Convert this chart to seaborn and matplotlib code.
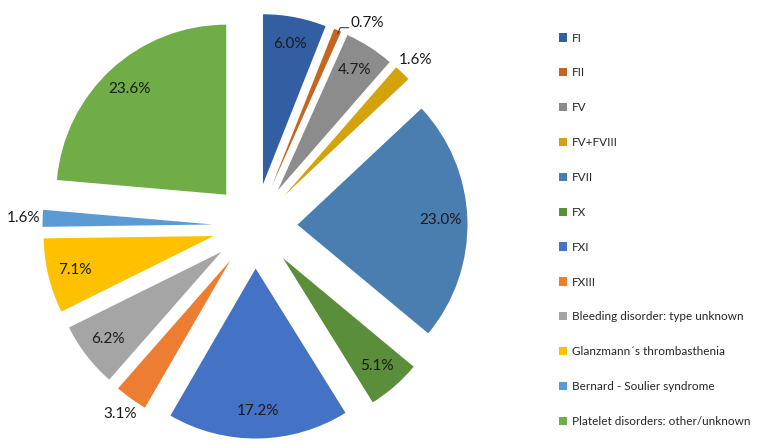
import numpy as np
import matplotlib.pyplot as plt
import seaborn as sns
from matplotlib.patches import Patch

categories = [
    "FI", "FII", "FV", "FV+FVIII", "FVII", "FX", "FXI", "FXIII",
    "Bleeding disorder: type unknown", "Glanzmann´s thrombasthenia",
    "Bernard - Soulier syndrome", "Platelet disorders: other/unknown",
]
shares = [6.0, 0.7, 4.7, 1.6, 23.0, 5.1, 17.2, 3.1, 6.2, 7.1, 1.6, 23.6]
pct_labels = ["6.0%", "0.7%", "4.7%", "1.6%", "23.0%", "5.1%", "17.2%",
              "3.1%", "6.2%", "7.1%", "1.6%", "23.6%"]
outside = [False, True, False, True, False, False, False, True,
           False, False, True, False]
colors = ["#345EA2", "#C5661F", "#8C8C8C", "#D4A20A", "#4A7EB1", "#5A8E3A",
          "#4472C4", "#ED7D31", "#A5A5A5", "#FFC000", "#5B9BD5", "#70AD47"]

sns.set_style("white")
plt.rcParams["font.family"] = ["Lato", "DejaVu Sans"]

fig = plt.figure(figsize=(7.73, 4.47), dpi=100)
# axes covering the left part so that 1 radius unit = 170 px
ax = fig.add_axes([0, 0, 550 / 773, 1])

explode = 0.25
wedges, _ = ax.pie(
    shares, colors=colors, startangle=90, counterclock=False,
    explode=[explode] * len(shares), radius=1.0,
    wedgeprops=dict(linewidth=0),
)
ax.set_xlim(-255 / 170, 295 / 170)
ax.set_ylim(-221 / 170, 226 / 170)
ax.set_aspect("auto")
ax.axis("off")

for w, lab, out in zip(wedges, pct_labels, outside):
    mid = np.deg2rad((w.theta1 + w.theta2) / 2)
    cx, cy = w.center
    if lab == "0.7%":
        # tiny slice: label off to the side with a leader line
        px, py = cx + np.cos(mid), cy + np.sin(mid)
        ax.plot([px, px + 0.015, px + 0.065], [py - 0.02, py + 0.015, py + 0.015],
                color="#404040", lw=0.8)
        ax.text(px + 0.075, py + 0.045, lab, ha="left", va="center",
                fontsize=11, color="#1a1a1a")
        continue
    d = 1.11 if out else 0.84
    tx, ty = cx + d * np.cos(mid), cy + d * np.sin(mid)
    ax.text(tx, ty, lab, ha="center", va="center", fontsize=11, color="#1a1a1a")

handles = [Patch(facecolor=c, edgecolor="none") for c in colors]
fig.legend(handles, categories, loc="upper left",
           bbox_to_anchor=(548 / 773, 1 - 22 / 447), frameon=False,
           fontsize=8.5, handlelength=0.7, handleheight=0.7,
           handletextpad=0.4, labelspacing=2.02)

fig.savefig("out.png", dpi=100)
